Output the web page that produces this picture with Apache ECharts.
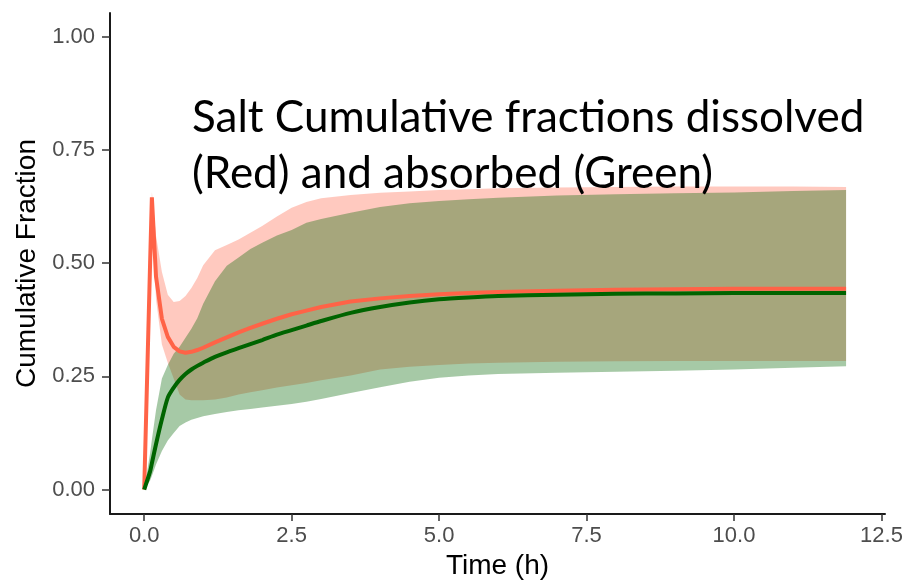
<!DOCTYPE html>
<html>
<head>
<meta charset="utf-8">
<script src="https://cdn.jsdelivr.net/npm/echarts@6/dist/echarts.min.js"></script>
<style>
  html, body { margin: 0; padding: 0; background: #ffffff; }
  #chart { width: 907px; height: 585px; }
</style>
</head>
<body>
<div id="chart"></div>
<script>
// Sampling times (h)
const timeH = [0, 0.1, 0.13, 0.2, 0.3, 0.4, 0.5, 0.6, 0.7, 0.8, 0.9, 1.0, 1.2, 1.4, 1.6, 1.8, 2.0, 2.25, 2.5, 2.75, 3.0, 3.5, 4.0, 4.5, 5.0, 5.5, 6.0, 7.0, 8.0, 9.0, 10.0, 11.0, 11.9];

// Cumulative fraction dissolved (red): mean and band limits
const dissolvedMean = [0, 0.50, 0.645, 0.47, 0.377, 0.337, 0.315, 0.305, 0.302, 0.304, 0.308, 0.313, 0.325, 0.336, 0.347, 0.357, 0.366, 0.377, 0.387, 0.395, 0.403, 0.415, 0.422, 0.427, 0.431, 0.434, 0.436, 0.439, 0.441, 0.442, 0.443, 0.443, 0.443];
const dissolvedLow  = [0, 0.48, 0.62, 0.42, 0.32, 0.28, 0.245, 0.21, 0.199, 0.197, 0.197, 0.197, 0.199, 0.203, 0.21, 0.215, 0.219, 0.225, 0.23, 0.235, 0.241, 0.252, 0.265, 0.271, 0.275, 0.278, 0.28, 0.282, 0.283, 0.284, 0.284, 0.284, 0.284];
const dissolvedHigh = [0, 0.52, 0.657, 0.56, 0.48, 0.43, 0.414, 0.416, 0.427, 0.445, 0.467, 0.495, 0.528, 0.54, 0.552, 0.567, 0.582, 0.603, 0.622, 0.635, 0.643, 0.65, 0.655, 0.658, 0.661, 0.663, 0.665, 0.667, 0.668, 0.669, 0.669, 0.669, 0.668];

// Cumulative fraction absorbed (green): mean and band limits
const absorbedMean = [0, 0.04, 0.058, 0.10, 0.155, 0.203, 0.225, 0.242, 0.255, 0.265, 0.273, 0.28, 0.293, 0.303, 0.312, 0.321, 0.33, 0.342, 0.352, 0.362, 0.372, 0.39, 0.403, 0.413, 0.42, 0.424, 0.427, 0.43, 0.432, 0.433, 0.434, 0.434, 0.434];
const absorbedLow  = [0, 0.02, 0.03, 0.055, 0.085, 0.108, 0.125, 0.14, 0.148, 0.154, 0.158, 0.162, 0.167, 0.171, 0.175, 0.178, 0.181, 0.185, 0.189, 0.194, 0.2, 0.213, 0.226, 0.238, 0.247, 0.252, 0.255, 0.258, 0.26, 0.262, 0.265, 0.269, 0.272];
const absorbedHigh = [0, 0.08, 0.11, 0.175, 0.245, 0.275, 0.30, 0.315, 0.335, 0.355, 0.378, 0.41, 0.46, 0.494, 0.512, 0.531, 0.545, 0.561, 0.573, 0.589, 0.597, 0.611, 0.624, 0.632, 0.637, 0.641, 0.644, 0.649, 0.652, 0.654, 0.656, 0.659, 0.661];

// Axis ticks
const xTicks = [0, 2.5, 5, 7.5, 10, 12.5];
const yTicks = [0, 0.25, 0.5, 0.75, 1.0];

// Annotation text
const noteLines = ['Salt Cumulative fractions dissolved', '(Red) and absorbed (Green)'];

const pairs = (ys) => timeH.map((t, i) => [t, ys[i]]);

const RED = '#FF6347';
const GREEN = '#006400';

// Ribbon between a lower and an upper limit, drawn as one polygon in data coordinates
function band(name, lo, hi, fill) {
  return {
    type: 'custom', name: name, silent: true,
    data: [0],
    renderItem: (params, api) => {
      const upper = timeH.map((t, i) => api.coord([t, hi[i]]));
      const lower = timeH.map((t, i) => api.coord([t, lo[i]])).reverse();
      return {
        type: 'polygon',
        shape: { points: upper.concat(lower) },
        style: { fill: fill, stroke: null }
      };
    }
  };
}

const chart = echarts.init(document.getElementById('chart'), null, { renderer: 'canvas' });

const axisLabelFont = { color: '#4d4d4d', fontSize: 22, fontFamily: 'Liberation Sans, Arial, sans-serif' };
const axisNameFont = { color: '#000000', fontSize: 28, fontFamily: 'Liberation Sans, Arial, sans-serif' };

chart.setOption({
  animation: false,
  backgroundColor: '#ffffff',
  grid: { left: 110, right: 22, top: 13, bottom: 69 },
  xAxis: {
    type: 'value', min: -0.58, max: 12.56,
    name: 'Time (h)', nameLocation: 'middle', nameGap: 38,
    nameTextStyle: axisNameFont,
    axisLine: { show: true, onZero: false, lineStyle: { color: '#1a1a1a', width: 2 } },
    axisTick: { show: true, length: 7, customValues: xTicks, lineStyle: { color: '#333333', width: 1.5 } },
    axisLabel: { margin: 11, customValues: xTicks, formatter: (v) => v.toFixed(1), ...axisLabelFont },
    splitLine: { show: false }
  },
  yAxis: {
    type: 'value', min: -0.054, max: 1.052,
    name: 'Cumulative Fraction', nameLocation: 'middle', nameGap: 68,
    nameTextStyle: axisNameFont,
    axisLine: { show: true, onZero: false, lineStyle: { color: '#1a1a1a', width: 2 } },
    axisTick: { show: true, length: 8, customValues: yTicks, lineStyle: { color: '#333333', width: 1.5 } },
    axisLabel: { margin: 15, customValues: yTicks, formatter: (v) => v.toFixed(2), ...axisLabelFont },
    splitLine: { show: false }
  },
  series: [
    band('Dissolved range', dissolvedLow, dissolvedHigh, 'rgba(255,99,71,0.35)'),
    band('Absorbed range', absorbedLow, absorbedHigh, 'rgba(0,100,0,0.35)'),
    {
      type: 'line', name: 'Dissolved', data: pairs(dissolvedMean), showSymbol: false, symbol: 'none',
      lineStyle: { color: RED, width: 4 }
    },
    {
      type: 'line', name: 'Absorbed', data: pairs(absorbedMean), showSymbol: false, symbol: 'none',
      smooth: 0.25,
      lineStyle: { color: GREEN, width: 4 }
    }
  ],
  graphic: noteLines.map((line, i) => ({
    type: 'text', x: 192, y: 118 + i * 56, z: 100,
    style: {
      text: line, fill: '#000000',
      font: '44px Lato, "Open Sans", sans-serif',
      textAlign: 'left', textVerticalAlign: 'middle'
    }
  }))
});
</script>
</body>
</html>
